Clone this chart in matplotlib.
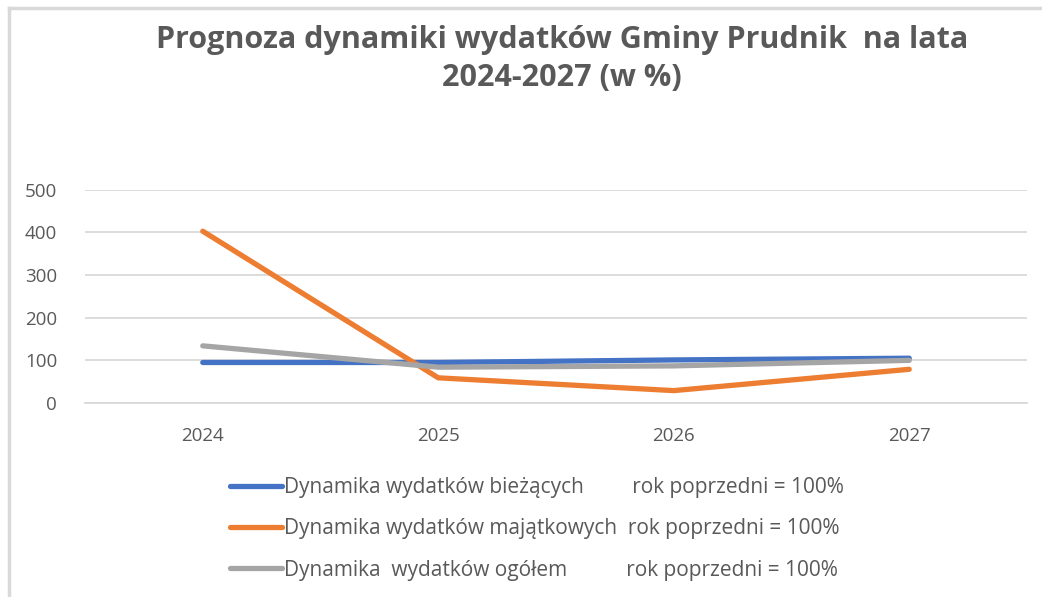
import matplotlib
matplotlib.use("Agg")
import matplotlib.pyplot as plt
from matplotlib.lines import Line2D

plt.rcParams["font.family"] = ["Open Sans", "DejaVu Sans"]

years = ["2024", "2025", "2026", "2027"]
biezace = [95, 95, 101, 105]
majatkowe = [403, 59, 29, 79]
ogolem = [134, 84, 87, 100]

labels = [
    "Dynamika wydatków bieżących         rok poprzedni = 100%",
    "Dynamika wydatków majątkowych  rok poprzedni = 100%",
    "Dynamika  wydatków ogółem           rok poprzedni = 100%",
]
colors = ["#4472C4", "#ED7D31", "#A5A5A5"]
text_color = "#595959"

fig = plt.figure(figsize=(10.42, 5.97), dpi=100)
ax = fig.add_axes([0.0816, 0.325, 0.904, 0.357])

x = range(len(years))
for vals, c, lab in zip([biezace, majatkowe, ogolem], colors, labels):
    ax.plot(x, vals, color=c, linewidth=3.8, solid_capstyle="round", label=lab)

ax.set_xlim(-0.5, 3.5)
ax.set_ylim(0, 500)
ax.set_yticks(range(0, 501, 100))
ax.set_xticks(list(x))
ax.set_xticklabels(years)
ax.grid(axis="y", color="#D9D9D9", linewidth=1.3)
ax.set_axisbelow(True)
for s in ["top", "right", "left"]:
    ax.spines[s].set_visible(False)
ax.spines["bottom"].set_color("#D9D9D9")
ax.spines["bottom"].set_linewidth(1.3)
ax.tick_params(length=0, labelsize=13.5, labelcolor=text_color)
ax.tick_params(axis="y", pad=20)
ax.tick_params(axis="x", pad=17)

fig.text(0.539, 0.901, "Prognoza dynamiki wydatków Gminy Prudnik  na lata\n2024-2027 (w %)",
         ha="center", va="center", fontsize=22, fontweight="bold", color=text_color,
         linespacing=1.36)

ax.legend(loc="upper left", bbox_to_anchor=(0.2025, 0.232), bbox_transform=fig.transFigure,
          frameon=False, fontsize=15, labelcolor=text_color, handlelength=2.5,
          handletextpad=0.1, labelspacing=0.97)

# chart frame (left and top edges visible)
fig.add_artist(Line2D([0.009, 0.009], [0, 0.987], color="#D9D9D9", linewidth=2.5))
fig.add_artist(Line2D([0.009, 1.0], [0.987, 0.987], color="#D9D9D9", linewidth=2.5))

fig.savefig("out.png", dpi=100)
